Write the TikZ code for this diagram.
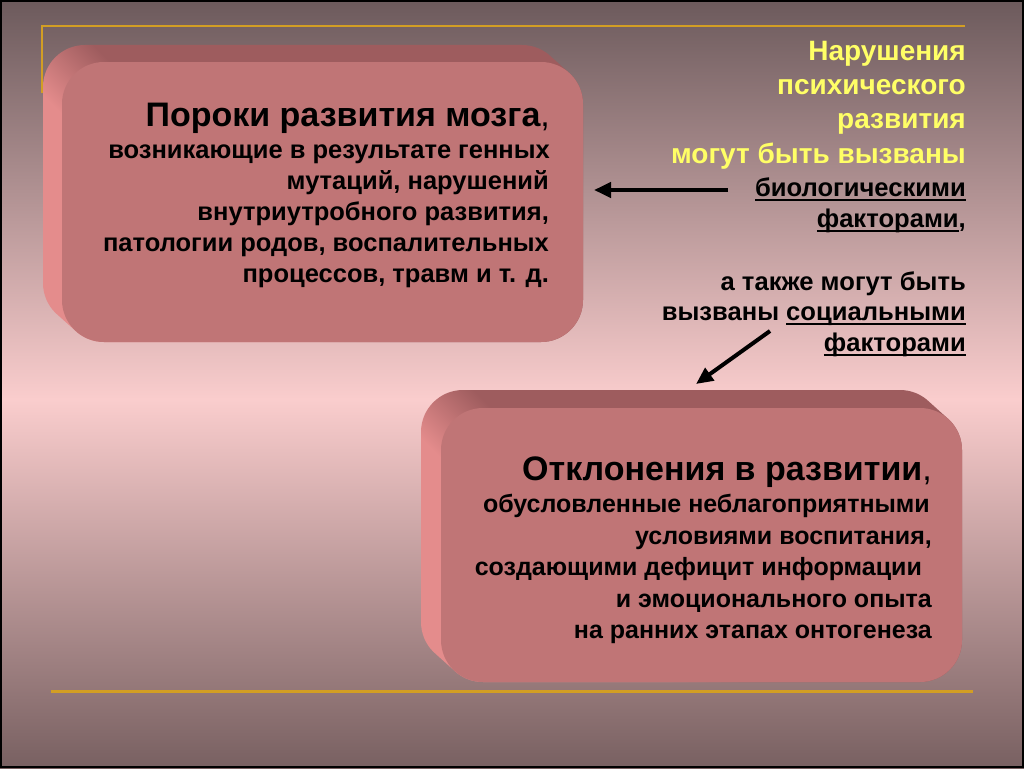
\documentclass[tikz,border=0pt]{standalone}
\usepackage{fontspec}
\setmainfont{Liberation Sans}
\usetikzlibrary{arrows.meta}
\definecolor{face}{RGB}{192,117,118}
\definecolor{bevdark}{RGB}{158,92,94}
\definecolor{bevlight}{RGB}{228,140,140}
\definecolor{gold}{RGB}{210,158,36}
\definecolor{ytext}{RGB}{255,255,102}
\definecolor{bgtop}{RGB}{108,90,92}
\definecolor{bgmid}{RGB}{250,205,205}
\definecolor{bgbot}{RGB}{120,96,97}
\pgfdeclareverticalshading{bgshade}{100bp}{color(0bp)=(bgbot); color(25bp)=(bgbot); color(49bp)=(bgmid); color(75bp)=(bgtop); color(100bp)=(bgtop)}
\pgfdeclarehorizontalshading{bevelshade}{100bp}{color(0bp)=(bevlight); color(48.5bp)=(bevlight); color(51.5bp)=(bevdark); color(100bp)=(bevdark)}
\newcommand\ulx[1]{\setbox0\hbox{#1}\rlap{\rule[-5pt]{\wd0}{2.2pt}}\box0}
\tikzset{
  body/.style={anchor=base east, inner sep=0pt, font=\fontsize{25.5}{30}\selectfont\bfseries},
  bodyb/.style={anchor=base east, inner sep=0pt, font=\fontsize{25}{30}\selectfont\bfseries},
  rbody/.style={anchor=base east, inner sep=0pt, font=\fontsize{25.6}{30}\selectfont\bfseries},
  titl/.style={anchor=base east, inner sep=0pt, font=\fontsize{34}{40}\selectfont\bfseries},
  ytxt/.style={anchor=base east, inner sep=0pt, font=\fontsize{28}{32}\selectfont\bfseries, text=ytext},
  goldline/.style={draw=gold, line width=2.5pt},
  arr/.style={line width=4pt, -{Triangle[length=17pt,width=15pt]}},
  facebox/.style={fill=face, rounded corners=42pt},
}
\begin{document}
\begin{tikzpicture}[x=1pt,y=-1pt]
\useasboundingbox (0,0) rectangle (1024,768);
\shade[shading=bgshade] (0,0) rectangle (1024,768);
% gold lines
\draw[goldline] (42,93) -- (42,26) -- (965,26);
\draw[goldline, line width=3pt] (51,691) -- (973,691);
% box 1 bevel
\begin{scope}
  \clip[rounded corners=42pt] \foreach \t in {0,...,19} { ({43+\t},{45+0.895*\t}) rectangle ++(521,280) };
  \shade[shading=bevelshade, shading angle=45] (-517,-515) rectangle (683,685);
\end{scope}
\fill[facebox] (62,62) rectangle (583,342);
% box 2 bevel
\begin{scope}
  \clip[rounded corners=42pt] \foreach \t in {0,...,20} { ({421+\t},{390+0.9*\t}) rectangle ++(521,274) };
  \shade[shading=bevelshade, shading angle=45] (-137,-170) rectangle (1063,1030);
\end{scope}
\fill[facebox] (441,408) rectangle (962,682);
% box 1 text
\node[titl] (t1) at (550,126) {Пороки развития мозга\textmd{,}};
\node[body] (b11) at (550,158) {возникающие в результате генных};
\node[body] (b12) at (549,189) {мутаций, нарушений};
\node[body] (b13) at (549,220) {внутриутробного развития,};
\node[body] (b14) at (549,251) {патологии родов, воспалительных};
\node[body] (b15) at (549,282) {процессов, травм и т. д.};
% box 2 text
\node[titl] (t2) at (932,480) {Отклонения в развитии\textmd{,}};
\node[bodyb] (b21) at (930,512) {обусловленные неблагоприятными};
\node[bodyb] (b22) at (932,544) {условиями воспитания,};
\node[bodyb] (b23) at (922,575) {создающими дефицит информации};
\node[bodyb] (b24) at (932,607) {и эмоционального опыта};
\node[bodyb] (b25) at (932,638) {на ранних этапах онтогенеза};
% right text
\node[ytxt] (r1) at (966,60) {Нарушения};
\node[ytxt] (r2) at (966,94) {психического};
\node[ytxt] (r3) at (966,128) {развития};
\node[ytxt] (r4) at (966,163) {могут быть вызваны};
\node[rbody] (r5) at (966,196) {\ulx{биологическими}};
\node[rbody] (r6) at (966,227) {\ulx{факторами},};
\node[rbody] (r7) at (966,290) {а также могут быть};
\node[rbody] (r8) at (966,320) {вызваны \ulx{социальными}};
\node[rbody] (r9) at (966,351) {\ulx{факторами}};
% arrows
\coordinate (a1s) at (728,190);
\coordinate (a1e) at (594,190);
\coordinate (a2s) at (770,331);
\coordinate (a2e) at (696,384);
\draw[arr] (a1s) -- (a1e);
\draw[arr] (a2s) -- (a2e);
% frame
\draw[line width=2pt] (1,1) rectangle (1023,767);
\end{tikzpicture}
\end{document}
